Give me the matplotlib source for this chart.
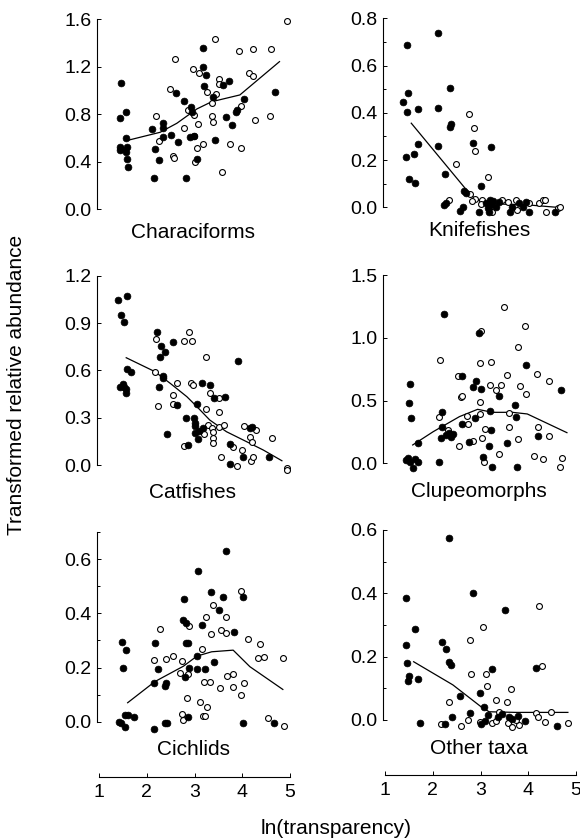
import matplotlib

matplotlib.use("Agg")
import matplotlib.pyplot as plt
from matplotlib.ticker import FormatStrFormatter, MultipleLocator

plt.rcParams["font.family"] = ["Liberation Sans", "DejaVu Sans"]

# Characiforms
chara_fill_x = [1.47, 1.45, 1.56, 1.57, 1.43, 1.47, 1.58, 1.57, 1.44, 1.59, 1.60, 2.12, 2.17, 2.15,
                2.26, 2.33, 2.33, 2.35, 2.50, 2.61, 2.66, 2.77, 2.82, 2.93, 2.95, 2.91, 2.98, 3.05,
                3.18, 3.18, 3.25, 3.20, 3.38, 3.42, 3.60, 3.73, 3.65, 3.78, 3.87, 3.90, 4.04, 4.69]
chara_fill_y = [1.06, 0.765, 0.82, 0.60, 0.526, 0.51, 0.526, 0.48, 0.50, 0.42, 0.357, 0.678, 0.506, 0.259,
                0.413, 0.723, 0.68, 0.61, 0.624, 0.976, 0.568, 0.914, 0.259, 0.863, 0.82, 0.61, 0.613, 0.425,
                1.355, 1.20, 1.128, 1.04, 0.942, 0.582, 1.05, 1.077, 0.78, 0.709, 0.82, 0.835, 0.925, 0.984]
chara_open_x = [3.43, 2.59, 2.96, 3.10, 3.51, 3.52, 3.27, 3.45, 3.36, 2.49, 2.19, 2.86, 2.99, 3.37, 3.38,
                3.07, 2.79, 2.26, 2.54, 2.58, 2.98, 3.18, 3.05, 3.00, 3.57, 3.74, 3.97, 3.93, 4.23, 4.60,
                4.93, 4.15, 4.23, 3.97, 4.27, 4.58]
chara_open_y = [1.434, 1.263, 1.181, 1.15, 1.094, 1.057, 0.987, 0.973, 0.891, 1.01, 0.787, 0.835, 0.793,
                0.787, 0.737, 0.717, 0.686, 0.571, 0.447, 0.427, 0.619, 0.548, 0.515, 0.40, 0.315, 0.551,
                0.517, 1.33, 1.35, 1.35, 1.586, 1.145, 1.125, 0.869, 0.751, 0.787]
chara_line_x = [1.63, 2.28, 2.63, 3.05, 3.36, 3.95, 4.78]
chara_line_y = [0.582, 0.647, 0.723, 0.844, 0.905, 0.962, 1.243]

# Knifefishes
knife_fill_x = [1.46, 2.11, 1.38, 1.49, 1.46, 1.69, 2.11, 2.37, 2.39, 2.37, 1.45, 1.61, 1.69, 2.10, 1.51,
                1.62, 2.26, 2.84, 3.22, 3.00, 2.65, 2.23, 2.27, 2.57, 2.64, 2.70, 2.96, 3.12, 3.15, 3.20,
                3.22, 3.27, 3.32, 3.17, 3.39, 3.62, 3.67, 3.81, 3.89, 4.02, 3.95, 4.57]
knife_fill_y = [0.687, 0.739, 0.447, 0.485, 0.402, 0.418, 0.419, 0.505, 0.353, 0.339, 0.212, 0.226, 0.268,
                0.26, 0.121, 0.104, 0.141, 0.272, 0.254, 0.09, 0.071, 0.011, 0.017, -0.014, 0.003, 0.062,
                -0.021, 0.017, -0.004, 0.031, 0.01, 0.027, 0.003, -0.021, 0.024, -0.021, 0.003, 0.017,
                0.003, -0.021, 0.024, -0.021]
knife_open_x = [2.75, 2.87, 2.89, 2.49, 3.15, 2.77, 2.89, 2.82, 3.03, 3.01, 3.24, 3.46, 3.57, 3.74, 3.77,
                4.02, 4.22, 4.31, 4.36, 4.38, 4.63, 4.66, 2.34]
knife_open_y = [0.396, 0.334, 0.24, 0.182, 0.13, 0.056, 0.037, 0.028, 0.031, 0.014, -0.018, 0.031, 0.021,
                0.031, -0.011, 0.017, 0.02, 0.031, 0.031, -0.018, -0.004, 0.0, 0.031]
knife_line_x = [1.55, 2.68, 2.89, 3.2, 4.0, 4.6]
knife_line_y = [0.356, 0.08, 0.034, 0.015, 0.01, 0.0]

# Catfishes
cat_fill_x = [1.40, 1.58, 1.47, 1.53, 1.59, 1.68, 1.43, 1.51, 1.52, 1.57, 1.56, 2.21, 2.30, 2.38, 2.28,
              2.54, 2.33, 2.35, 2.26, 2.63, 2.42, 2.82, 2.87, 2.99, 3.00, 3.06, 3.01, 3.16, 3.32, 3.41,
              3.64, 3.00, 3.07, 3.10, 3.18, 3.92, 3.74, 3.74, 4.02, 4.16, 4.20, 4.55]
cat_fill_y = [1.046, 1.071, 0.949, 0.906, 0.606, 0.592, 0.492, 0.513, 0.497, 0.48, 0.458, 0.843, 0.754,
              0.718, 0.687, 0.782, 0.564, 0.549, 0.492, 0.38, 0.196, 0.298, 0.125, 0.296, 0.268, 0.387,
              0.249, 0.518, 0.507, 0.423, 0.433, 0.203, 0.163, 0.216, 0.235, 0.659, 0.131, 0.004, 0.049,
              0.232, 0.243, 0.053]
cat_open_x = [2.89, 2.94, 2.77, 2.19, 3.25, 2.18, 2.64, 2.93, 2.96, 3.32, 2.54, 2.54, 3.52, 2.24, 3.25,
              3.52, 3.29, 3.37, 3.51, 3.62, 3.39, 3.19, 3.39, 3.39, 2.77, 4.04, 4.16, 4.28, 4.62, 3.81,
              4.00, 4.20, 3.55, 3.90, 4.18, 4.23, 4.93, 4.93]
cat_open_y = [0.843, 0.788, 0.788, 0.80, 0.685, 0.592, 0.518, 0.518, 0.507, 0.454, 0.444, 0.387, 0.427,
              0.376, 0.353, 0.334, 0.254, 0.232, 0.243, 0.256, 0.211, 0.196, 0.169, 0.142, 0.12, 0.247,
              0.18, 0.222, 0.173, 0.112, 0.095, 0.148, 0.049, -0.006, 0.025, 0.049, -0.021, -0.03]
cat_line_x = [1.57, 2.17, 2.49, 2.84, 3.05, 3.32, 3.67, 4.09, 4.44, 4.83]
cat_line_y = [0.68, 0.592, 0.518, 0.433, 0.37, 0.285, 0.211, 0.148, 0.095, 0.027]

# Clupeomorphs
clupe_fill_x = [1.53, 1.50, 1.55, 1.69, 1.45, 1.49, 1.53, 1.62, 1.69, 1.58, 2.13, 2.23, 2.20, 2.20, 2.18,
                2.28, 2.33, 2.39, 2.42, 2.62, 2.62, 2.75, 2.85, 2.91, 2.89, 2.96, 3.02, 3.05, 3.20, 3.23,
                3.17, 3.39, 3.25, 3.55, 3.72, 3.74, 3.77, 3.95, 4.21, 4.69]
clupe_fill_y = [0.632, 0.483, 0.364, 0.159, 0.027, 0.04, 0.013, 0.032, 0.011, -0.04, 0.008, 1.189, 0.411,
                0.292, 0.199, 0.226, 0.239, 0.212, 0.234, 0.698, 0.313, 0.167, 0.61, 0.656, 0.358, 1.041,
                0.589, 0.053, 0.419, 0.265, 0.138, 0.536, -0.032, 0.159, 0.465, 0.372, -0.032, 0.78,
                0.218, 0.584]
clupe_open_x = [3.50, 3.94, 3.01, 3.79, 2.15, 2.99, 3.21, 2.53, 3.55, 4.19, 4.43, 2.60, 2.61, 3.20, 3.32,
                3.43, 3.83, 3.96, 2.98, 2.13, 2.71, 2.98, 3.60, 2.32, 2.73, 3.10, 3.59, 4.21, 4.43, 3.03,
                2.84, 2.56, 3.79, 3.39, 4.12, 4.31, 4.71, 4.66, 3.08]
clupe_open_y = [1.242, 1.094, 1.057, 0.924, 0.823, 0.802, 0.81, 0.698, 0.703, 0.711, 0.658, 0.531, 0.539,
                0.624, 0.584, 0.624, 0.616, 0.552, 0.486, 0.372, 0.377, 0.39, 0.398, 0.265, 0.311, 0.273,
                0.287, 0.287, 0.22, 0.204, 0.18, 0.141, 0.191, 0.072, 0.061, 0.032, 0.04, -0.032, 0.008]
clupe_line_x = [1.58, 2.01, 2.56, 2.94, 3.25, 3.67, 3.98, 4.81]
clupe_line_y = [0.146, 0.252, 0.372, 0.43, 0.406, 0.406, 0.393, 0.244]

# Cichlids
cich_fill_x = [1.49, 1.57, 1.51, 1.42, 1.54, 1.61, 1.74, 1.47, 1.54, 2.17, 2.23, 2.16, 2.40, 2.39, 2.15,
               2.38, 2.42, 2.79, 2.75, 2.82, 2.82, 2.86, 2.89, 2.80, 2.87, 3.08, 3.05, 3.06, 3.22, 3.15,
               3.35, 3.40, 3.51, 3.60, 3.67, 3.83, 4.01, 4.02, 4.67]
cich_fill_y = [0.294, 0.263, 0.20, 0.0, 0.025, 0.025, 0.018, -0.006, -0.018, 0.291, 0.195, 0.144, 0.144,
               0.13, -0.026, -0.006, -0.004, 0.451, 0.377, 0.365, 0.289, 0.289, 0.198, 0.166, 0.016,
               0.557, 0.242, 0.193, 0.195, 0.357, 0.48, 0.219, 0.414, 0.459, 0.63, 0.331, 0.459,
               -0.006, -0.004]
cich_open_x = [2.28, 2.15, 2.40, 2.56, 2.73, 2.70, 2.87, 2.89, 2.84, 2.73, 2.75, 3.15, 3.12, 3.26, 3.17,
               3.22, 3.24, 3.39, 3.35, 3.55, 3.65, 3.66, 3.19, 3.32, 3.53, 3.69, 3.81, 3.81, 3.97, 4.04,
               3.97, 4.13, 4.37, 4.32, 4.46, 4.85, 4.53, 4.87]
cich_open_y = [0.341, 0.227, 0.231, 0.243, 0.224, 0.178, 0.175, 0.354, 0.086, 0.028, 0.006, 0.268, 0.071,
               0.053, 0.022, 0.021, 0.385, 0.43, 0.323, 0.338, 0.326, 0.387, 0.145, 0.145, 0.123, 0.17,
               0.176, 0.129, 0.483, 0.141, 0.098, 0.304, 0.286, 0.234, 0.237, 0.236, 0.012, -0.016]
cich_line_x = [1.60, 2.17, 2.77, 3.05, 3.36, 3.81, 4.16, 4.85]
cich_line_y = [0.07, 0.148, 0.205, 0.242, 0.258, 0.264, 0.203, 0.119]

# Other taxa
other_fill_x = [2.34, 1.45, 2.84, 3.51, 1.63, 1.45, 1.47, 1.50, 1.49, 1.69, 2.20, 2.27, 2.35, 2.39, 2.57,
                3.24, 2.98, 3.08, 4.16, 1.73, 2.25, 2.40, 2.77, 3.01, 3.10, 3.15, 3.36, 3.46, 3.60, 3.67,
                3.79, 3.93, 4.61]
other_fill_y = [0.574, 0.384, 0.40, 0.347, 0.286, 0.237, 0.179, 0.14, 0.124, 0.129, 0.247, 0.224, 0.182,
                0.174, 0.077, 0.161, 0.084, 0.042, 0.165, -0.011, -0.014, 0.008, 0.021, -0.014, -0.002,
                0.016, 0.011, 0.019, 0.008, 0.002, 0.013, -0.002, -0.019]
other_open_x = [4.22, 3.06, 2.78, 4.28, 2.80, 3.12, 3.14, 3.64, 3.32, 3.55, 2.34, 3.39, 4.16, 4.21, 4.47,
                4.36, 4.83, 2.18, 2.59, 2.73, 2.98, 3.24, 3.32, 3.57, 3.67, 3.81, 3.74]
other_open_y = [0.36, 0.293, 0.253, 0.172, 0.145, 0.145, 0.108, 0.098, 0.063, 0.058, 0.058, 0.026, 0.021,
                0.011, 0.026, -0.005, -0.011, -0.014, -0.019, 0.0, -0.005, -0.011, -0.002, -0.011,
                -0.021, -0.016, 0.0]
other_line_x = [1.60, 2.42, 3.01, 3.18, 3.74, 4.83]
other_line_y = [0.184, 0.111, 0.042, 0.026, 0.024, 0.024]

W, H = 580, 840
fig = plt.figure(figsize=(W / 100, H / 100), dpi=100)

# (name, filled, open, line, ytop, major, minor, left px, top px, zero px, bottom row)
panels = [
    ("Characiforms", (chara_fill_x, chara_fill_y), (chara_open_x, chara_open_y), (chara_line_x, chara_line_y),
     1.6, 0.4, None, 97, 19.3, 209, False),
    ("Knifefishes", (knife_fill_x, knife_fill_y), (knife_open_x, knife_open_y), (knife_line_x, knife_line_y),
     0.8, 0.2, 0.1, 383, 18.3, 207.3, False),
    ("Catfishes", (cat_fill_x, cat_fill_y), (cat_open_x, cat_open_y), (cat_line_x, cat_line_y),
     1.2, 0.3, None, 97, 275.7, 465, False),
    ("Clupeomorphs", (clupe_fill_x, clupe_fill_y), (clupe_open_x, clupe_open_y), (clupe_line_x, clupe_line_y),
     1.5, 0.5, None, 383, 275, 463.3, False),
    ("Cichlids", (cich_fill_x, cich_fill_y), (cich_open_x, cich_open_y), (cich_line_x, cich_line_y),
     0.7, 0.2, 0.1, 97, 532, 721.7, True),
    ("Other taxa", (other_fill_x, other_fill_y), (other_open_x, other_open_y), (other_line_x, other_line_y),
     0.6, 0.2, 0.1, 383, 530, 720, True),
]

for name, filled, hollow, line, ytop, major, minor, left, top, zero, bottom_row in panels:
    ax = fig.add_axes([left / W, 1 - zero / H, 193 / W, (zero - top) / H])
    ax.set_xlim(0.958, 5.0)
    ax.set_ylim(0, ytop)
    ax.plot(line[0], line[1], color="black", linewidth=0.9, zorder=2, clip_on=False)
    ax.scatter(hollow[0], hollow[1], s=18, facecolor="white", edgecolor="black", linewidth=0.8,
               zorder=3, clip_on=False)
    ax.scatter(filled[0], filled[1], s=24, facecolor="black", edgecolor="black", linewidth=0.5,
               zorder=4, clip_on=False)

    for side in ("top", "right"):
        ax.spines[side].set_visible(False)
    ax.spines["left"].set_linewidth(0.8)
    ax.spines["left"].set_bounds(0, ytop)
    ax.yaxis.set_major_locator(MultipleLocator(major))
    ax.yaxis.set_major_formatter(FormatStrFormatter("%.1f"))
    if minor:
        ax.yaxis.set_minor_locator(MultipleLocator(minor))
    ax.tick_params(axis="y", which="both", direction="in", length=3, width=0.7, labelsize=14, pad=4)
    ax.tick_params(axis="y", which="minor", length=2)

    if bottom_row:
        ax.spines["bottom"].set_position(("outward", 55 * 0.72))
        ax.spines["bottom"].set_bounds(1, 5)
        ax.spines["bottom"].set_linewidth(0.8)
        ax.set_xticks([1, 2, 3, 4, 5])
        ax.tick_params(axis="x", direction="in", length=3, width=0.7, labelsize=14, pad=5)
    else:
        ax.spines["bottom"].set_visible(False)
        ax.set_xticks([])

    label_y = 1 - (zero + (23 if not bottom_row else 28) + (5 if top > 200 and not bottom_row else 0)) / H
    fig.text((left + 96) / W, label_y, name, ha="center", va="center", fontsize=15)

fig.text(17 / W, 1 - 385 / H, "Transformed relative abundance", rotation=90, ha="center", va="center",
         fontsize=15)
fig.text(336 / W, 1 - 828 / H, "ln(transparency)", ha="center", va="center", fontsize=15)

fig.savefig("out.png", dpi=100, facecolor="white")
